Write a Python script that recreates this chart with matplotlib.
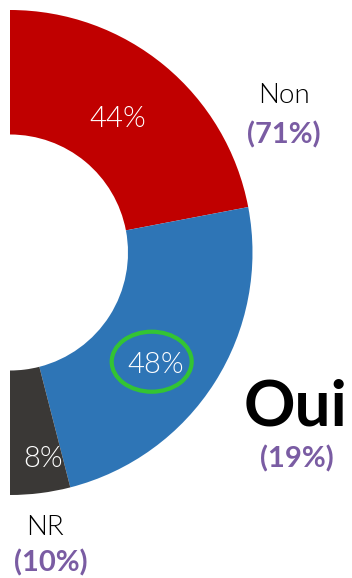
import matplotlib.pyplot as plt
from matplotlib.patches import Ellipse

# Half donut: shares of answers (the hidden half keeps the ring at 180 degrees)
labels = ["Non", "Oui", "NR"]
shares = [44, 48, 8]
previous = ["(71%)", "(19%)", "(10%)"]
colors = ["#C00000", "#2E75B6", "#3A3836"]

W, H = 352, 578
purple = "#7A5CA3"
font = "Lato"

fig = plt.figure(figsize=(W / 100, H / 100), dpi=100)
ax = fig.add_axes([0, 0, 1, 1])

# pixel helpers (y measured from top)
def py(y):
    return H - y

cx, cy = 10, py(252.5)
r_out, r_in = 242.5, 118

wedges, _ = ax.pie(shares + [sum(shares)], colors=colors + ["none"],
                   startangle=90, counterclock=False, radius=r_out,
                   center=(cx, cy), wedgeprops=dict(width=r_out - r_in, linewidth=0))
wedges[-1].set_visible(False)

ax.set_xlim(0, W)
ax.set_ylim(0, H)
ax.set_aspect("equal")
ax.axis("off")

# percentages inside the ring
inner_pos = [(117.5, 127), (155.5, 373), (43.5, 467)]
for val, (x, y) in zip(shares, inner_pos):
    ax.text(x, py(y), f"{val}%", color="white", fontsize=21, family=font,
            fontweight=300, ha="center", va="baseline")

# highlight around the winning answer
ax.add_patch(Ellipse((151.7, py(361.7)), 80, 60, fill=False,
                     edgecolor="#33C433", linewidth=3))

# outside labels with the previous result
ax.text(284, py(103), labels[0], fontsize=20, family=font, fontweight=300,
        color="black", ha="center", va="baseline")
ax.text(283.5, py(143), previous[0], fontsize=21, family=font, fontweight="bold",
        color=purple, ha="center", va="baseline")

ax.text(296, py(425), labels[1], fontsize=46, family=font, fontweight="bold",
        color="black", ha="center", va="baseline")
ax.text(297, py(467), previous[1], fontsize=21, family=font, fontweight="bold",
        color=purple, ha="center", va="baseline")

ax.text(45, py(535), labels[2], fontsize=20, family=font, fontweight=300,
        color="black", ha="center", va="baseline")
ax.text(51, py(571), previous[2], fontsize=21, family=font, fontweight="bold",
        color=purple, ha="center", va="baseline")

fig.savefig("out.png", dpi=100)
